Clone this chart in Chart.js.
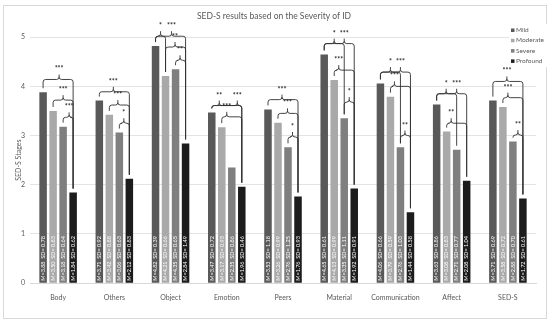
<!DOCTYPE html>
<html>
<head>
<meta charset="utf-8">
<script src="https://cdn.jsdelivr.net/npm/chart.js@4.4.1/dist/chart.umd.min.js"></script>
<style>
  html, body { margin: 0; padding: 0; background: #fff; }
  #wrap { width: 550px; height: 325px; position: relative; }
</style>
</head>
<body>
<div id="wrap"><canvas id="chart" width="550" height="325"></canvas></div>
<script>
const categories = ['Body', 'Others', 'Object', 'Emotion', 'Peers', 'Material', 'Communication', 'Affect', 'SED-S'];
const seriesNames = ['Mild', 'Moderate', 'Severe', 'Profound'];

// means per severity group
const mild     = [3.88, 3.71, 4.82, 3.47, 3.53, 4.65, 4.06, 3.63, 3.71];
const moderate = [3.50, 3.42, 4.21, 3.17, 3.26, 4.13, 3.79, 3.08, 3.58];
const severe   = [3.18, 3.06, 4.35, 2.35, 2.76, 3.35, 2.76, 2.71, 2.88];
const profound = [1.84, 2.12, 2.84, 1.96, 1.76, 1.92, 1.44, 2.08, 1.72];

// standard deviations
const sdMild     = [0.78, 0.92, 0.39, 0.72, 1.18, 0.61, 0.66, 0.86, 0.69];
const sdModerate = [0.83, 0.88, 0.66, 0.93, 0.99, 0.99, 0.59, 0.83, 0.72];
const sdSevere   = [0.64, 0.63, 0.65, 0.86, 1.25, 1.11, 1.03, 0.77, 0.70];
const sdProfound = [0.62, 0.83, 1.49, 0.46, 0.93, 0.91, 0.58, 1.04, 0.61];

const yTicks = [0, 1, 2, 3, 4, 5];

// significance brackets: [category, from group, to group, line level, bump at (group index), stars]
const sigBrackets = [
    [0, 0, 3, 4.14, 1.6, '***'], [0, 1, 3, 3.72, 2.0, '***'], [0, 2, 3, 3.37, 2.6, '***'],
    [1, 0, 3, 3.89, 1.4, '***'], [1, 1, 3, 3.62, 1.85, '***'], [1, 2, 3, 3.25, 2.45, '*'],
    [2, 0, 1, 5.02, 0.5, '*'], [2, 0, 3, 5.02, 1.6, '***'], [2, 1, 3, 4.80, 1.95, '**'], [2, 2, 3, 4.53, 2.45, '**'],
    [3, 0, 3, 3.61, 0.75, '**'], [3, 0, 3, 3.61, 2.55, '***'], [3, 1, 3, 3.38, 1.5, '***'],
    [4, 0, 3, 3.73, 1.4, '***'], [4, 1, 3, 3.45, 1.95, '***'], [4, 2, 3, 2.97, 2.45, '*'],
    [5, 0, 2, 4.87, 1.0, '*'], [5, 0, 3, 4.87, 2.0, '***'], [5, 1, 3, 4.33, 1.45, '***'], [5, 2, 3, 3.68, 2.5, '*'],
    [6, 0, 2, 4.29, 1.0, '*'], [6, 0, 3, 4.29, 2.0, '***'], [6, 1, 3, 4.00, 1.4, '***'], [6, 2, 3, 3.00, 2.45, '**'],
    [7, 0, 2, 3.85, 0.95, '*'], [7, 0, 3, 3.85, 2.0, '***'], [7, 1, 3, 3.25, 1.45, '**'],
    [8, 0, 3, 4.10, 1.4, '***'], [8, 1, 3, 3.77, 1.5, '***'], [8, 2, 3, 3.01, 2.5, '**']
];

const colors = ['#595959', '#a9a9a9', '#7f7f7f', '#1c1c1c'];
const means = [mild, moderate, severe, profound];
const sds = [sdMild, sdModerate, sdSevere, sdProfound];
const textGray = '#595959';
const fontFam = 'Lato, "Liberation Sans", sans-serif';

// white background + light chart border
const frame = {
    id: 'frame',
    beforeDraw(chart) {
        const ctx = chart.ctx;
        ctx.save();
        ctx.fillStyle = '#fff';
        ctx.fillRect(0, 0, chart.width, chart.height);
        ctx.strokeStyle = '#d9d9d9';
        ctx.lineWidth = 1;
        ctx.strokeRect(3.5, 5.5, chart.width - 7, chart.height - 12);
        ctx.restore();
    }
};

// rotated "M= SD=" labels inside the bars
const barLabels = {
    id: 'barLabels',
    afterDatasetsDraw(chart) {
        const ctx = chart.ctx;
        ctx.save();
        ctx.fillStyle = '#fff';
        ctx.font = '5.5px ' + fontFam;
        ctx.textAlign = 'left';
        ctx.textBaseline = 'middle';
        chart.data.datasets.forEach((ds, di) => {
            chart.getDatasetMeta(di).data.forEach((bar, i) => {
                const txt = 'M=' + ds.data[i].toFixed(2) + '  SD= ' + sds[di][i].toFixed(2);
                ctx.save();
                ctx.translate(bar.x, bar.base - 2);
                ctx.rotate(-Math.PI / 2);
                ctx.fillText(txt, 0, 0);
                ctx.restore();
            });
        });
        ctx.restore();
    }
};

// significance brackets with stars
const brackets = {
    id: 'brackets',
    afterDatasetsDraw(chart) {
        const ctx = chart.ctx;
        const r = 2.5, h = 5, gap = 4;
        ctx.save();
        ctx.strokeStyle = '#303030';
        ctx.lineWidth = 0.9;
        ctx.fillStyle = '#262626';
        ctx.font = 'bold 7px ' + fontFam;
        ctx.textAlign = 'center';
        ctx.textBaseline = 'alphabetic';
        sigBrackets.forEach(([cat, from, to, level, bump, stars]) => {
            const bars = [0, 1, 2, 3].map(d => chart.getDatasetMeta(d).data[cat]);
            const x1 = bars[from].x, x2 = bars[to].x;
            const xb = bars[0].x + bump * (bars[1].x - bars[0].x);
            const yL = chart.scales.y.getPixelForValue(level);
            ctx.beginPath();
            ctx.moveTo(x1, bars[from].y - gap);
            ctx.lineTo(x1, yL + r);
            ctx.quadraticCurveTo(x1, yL, x1 + r, yL);
            ctx.lineTo(xb - r, yL);
            ctx.quadraticCurveTo(xb, yL, xb, yL - r);
            ctx.lineTo(xb, yL - h);
            ctx.moveTo(xb, yL - r);
            ctx.quadraticCurveTo(xb, yL, xb + r, yL);
            ctx.lineTo(x2 - r, yL);
            ctx.quadraticCurveTo(x2, yL, x2, yL + r);
            ctx.lineTo(x2, bars[to].y - gap);
            ctx.stroke();
            ctx.fillText(stars, xb, yL - h - 3);
        });
        ctx.restore();
    }
};

// legend in the upper right corner
const cornerLegend = {
    id: 'cornerLegend',
    afterDraw(chart) {
        const ctx = chart.ctx;
        const x = 511, y0 = 30, step = 10.3;
        ctx.save();
        ctx.fillStyle = '#fff';
        ctx.fillRect(x - 2, y0 - 6, 38, step * 4 + 2);
        ctx.font = '6.5px ' + fontFam;
        ctx.textBaseline = 'middle';
        chart.data.datasets.forEach((ds, i) => {
            const y = y0 + i * step;
            ctx.fillStyle = ds.backgroundColor;
            ctx.fillRect(x, y - 1.5, 3.5, 3.5);
            ctx.fillStyle = textGray;
            ctx.fillText(ds.label, x + 5, y);
        });
        ctx.restore();
    }
};

new Chart(document.getElementById('chart'), {
    type: 'bar',
    data: {
        labels: categories,
        datasets: seriesNames.map((name, i) => ({
            label: name,
            data: means[i],
            backgroundColor: colors[i],
            borderWidth: 0,
            categoryPercentage: 0.712,
            barPercentage: 0.75
        }))
    },
    options: {
        responsive: false,
        animation: false,
        layout: { padding: { left: 12, right: 14, top: 0, bottom: 0 } },
        plugins: {
            legend: { display: false },
            tooltip: { enabled: false },
            title: {
                display: true,
                text: 'SED-S results based on the Severity of ID',
                color: textGray,
                font: { family: fontFam, size: 8.5, weight: 'normal' },
                padding: { top: 11, bottom: 16 }
            }
        },
        scales: {
            x: {
                grid: { display: false },
                border: { color: '#d9d9d9' },
                ticks: {
                    color: textGray,
                    font: { family: fontFam, size: 7 },
                    padding: 3,
                    maxRotation: 0,
                    autoSkip: false
                },
                afterFit: s => { s.height = 42; }
            },
            y: {
                min: yTicks[0],
                max: yTicks[yTicks.length - 1],
                afterBuildTicks: s => { s.ticks = yTicks.map(v => ({ value: v })); },
                grid: { color: '#d9d9d9', lineWidth: 0.75, drawTicks: false },
                border: { display: false },
                ticks: {
                    color: textGray,
                    font: { family: fontFam, size: 7 },
                    padding: 5
                },
                title: {
                    display: true,
                    text: 'SED-S Stages',
                    color: textGray,
                    font: { family: fontFam, size: 7 },
                    padding: { top: 3, bottom: 0 }
                },
                afterFit: s => { s.width = 18; }
            }
        }
    },
    plugins: [frame, barLabels, brackets, cornerLegend]
});
</script>
</body>
</html>
